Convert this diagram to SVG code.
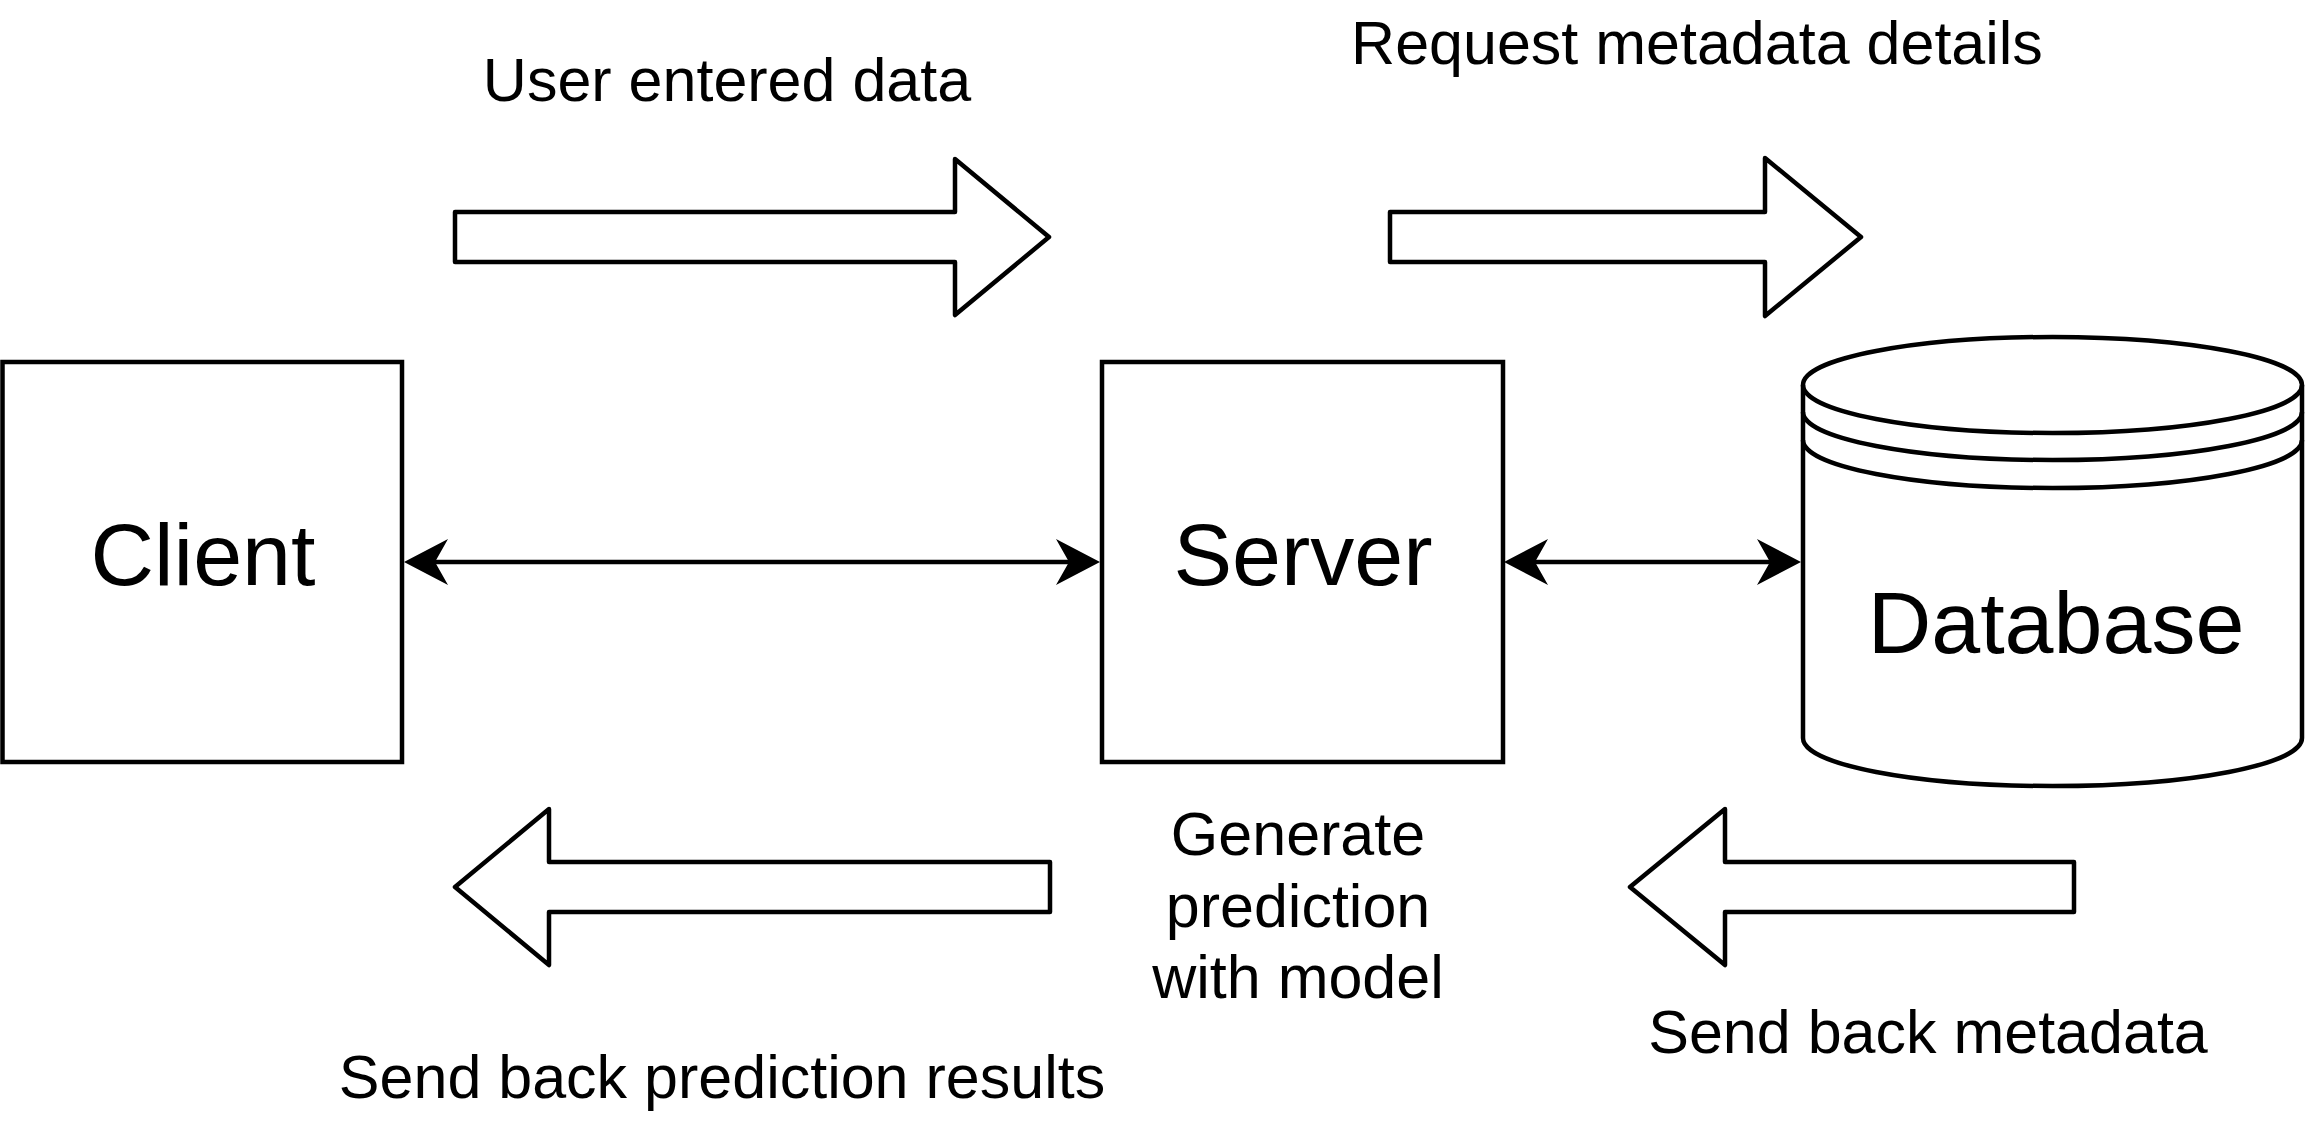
<svg xmlns="http://www.w3.org/2000/svg" width="2305" height="1140" viewBox="0 0 2305 1140">
  <style>
    .shape { fill: #ffffff; stroke: #000000; stroke-width: 4.5; }
    .block { fill: #ffffff; stroke: #000000; stroke-width: 4.5; stroke-linejoin: round; }
    .conn { fill: none; stroke: #000000; stroke-width: 4.5; }
    .big { font-family: "Liberation Sans", Arial, sans-serif; font-size: 88px; fill: #000000; text-anchor: middle; }
    .lbl { font-family: "Liberation Sans", Arial, sans-serif; font-size: 61px; fill: #000000; text-anchor: middle; }
  </style>
  <defs>
    <marker id="head" viewBox="0 0 44 46" refX="13" refY="23" markerWidth="44" markerHeight="46" markerUnits="userSpaceOnUse" orient="auto-start-reverse">
      <path d="M0,0 L44,23 L0,46 L13,23 Z" fill="#000000"/>
    </marker>
  </defs>
  <rect width="2305" height="1140" fill="#ffffff"/>

  <g id="client">
    <rect class="shape" x="2.5" y="362" width="399.5" height="400"/>
    <text class="big" x="203" y="585">Client</text>
  </g>

  <g id="server">
    <rect class="shape" x="1102" y="362" width="401" height="400"/>
    <text class="big" x="1303" y="585">Server</text>
  </g>

  <g id="database">
    <path class="shape" d="M1803,385 L1803,738 A249.5,48 0 0 0 2302,738 L2302,385 A249.5,48 0 0 0 1803,385 Z"/>
    <path class="conn" d="M1803,385 A249.5,48 0 0 0 2302,385"/>
    <path class="conn" d="M1803,412 A249.5,48 0 0 0 2302,412"/>
    <path class="conn" d="M1803,440 A249.5,48 0 0 0 2302,440"/>
    <text class="big" x="2056" y="653">Database</text>
  </g>

  <g id="connectors">
    <line class="conn" x1="435" y1="562" x2="1069" y2="562" marker-start="url(#head)" marker-end="url(#head)"/>
    <line class="conn" x1="1535" y1="562" x2="1770" y2="562" marker-start="url(#head)" marker-end="url(#head)"/>
  </g>

  <g id="arrow-user-data">
    <polygon class="block" points="455,212 955,212 955,159 1049,237 955,315 955,262 455,262"/>
    <text class="lbl" x="727" y="101">User entered data</text>
  </g>

  <g id="arrow-request-metadata">
    <polygon class="block" points="1390,212 1765,212 1765,158 1861,237 1765,316 1765,262 1390,262"/>
    <text class="lbl" x="1697" y="64">Request metadata details</text>
  </g>

  <g id="arrow-send-prediction">
    <polygon class="block" points="1050,862 549,862 549,809 455,887 549,965 549,912 1050,912"/>
    <text class="lbl" x="722" y="1098">Send back prediction results</text>
  </g>

  <g id="arrow-send-metadata">
    <polygon class="block" points="2074,862 1725,862 1725,809 1630,887 1725,965 1725,912 2074,912"/>
    <text class="lbl" x="1928" y="1053">Send back metadata</text>
  </g>

  <g id="generate-label">
    <text class="lbl" x="1298" y="855">Generate</text>
    <text class="lbl" x="1298" y="927">prediction</text>
    <text class="lbl" x="1298" y="998">with model</text>
  </g>
</svg>
